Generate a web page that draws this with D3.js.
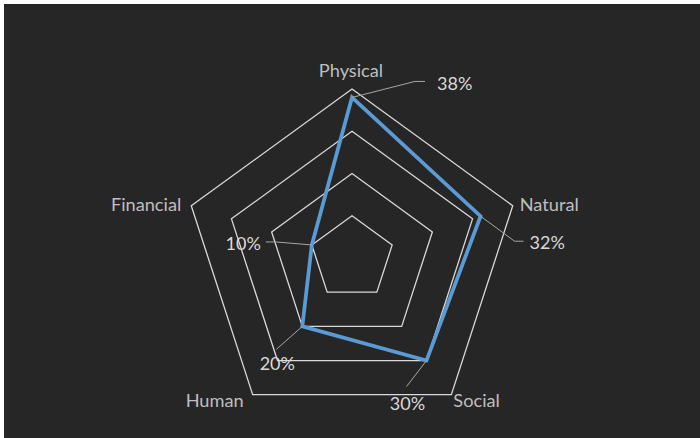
<!DOCTYPE html>
<html><head><meta charset="utf-8">
<script src="https://cdn.jsdelivr.net/npm/d3@7"></script>
<style>html,body{margin:0;padding:0;background:#ffffff;}svg{display:block;}</style>
</head><body><svg id="c" width="700" height="438"></svg>
<script>
const categories = ["Physical", "Natural", "Social", "Human", "Financial"];
const values = [38, 32, 30, 20, 10];
const ticks = [10, 20, 30, 40];
const valueLabels = ["38%", "32%", "30%", "20%", "10%"];

// layout
const cx = 352, cy = 258, R = 169;
const svg = d3.select("#c");
svg.append("rect").attr("x", 4).attr("y", 4).attr("width", 696).attr("height", 434).attr("fill", "#262626");

const r = d3.scaleLinear().domain([0, 40]).range([0, R]);
const angle = d3.scaleLinear().domain([0, categories.length]).range([0, 2 * Math.PI]);
const pt = (i, v) => [cx + r(v) * Math.sin(angle(i)), cy - r(v) * Math.cos(angle(i))];

const g = svg.append("g");
const radial = d3.lineRadial().curve(d3.curveLinearClosed);

ticks.forEach(t => {
  g.append("path")
    .attr("transform", `translate(${cx},${cy})`)
    .attr("d", radial(categories.map((c, i) => [angle(i), r(t)])))
    .attr("fill", "none").attr("stroke", "#d9d9d9").attr("stroke-width", 1.3);
});

// series
g.append("path")
  .attr("transform", `translate(${cx},${cy})`)
  .attr("d", radial(values.map((v, i) => [angle(i), r(v)])))
  .attr("fill", "none").attr("stroke", "#5b9bd5").attr("stroke-width", 3.75)
  .attr("stroke-linejoin", "miter");

// category labels
const catLayout = [
  {dx: -1, dy: -19.5, anchor: "middle"},
  {dx: 7, dy: -1.5, anchor: "start"},
  {dx: 2, dy: 5.5, anchor: "start"},
  {dx: -9, dy: 5.5, anchor: "end"},
  {dx: -10, dy: -1.5, anchor: "end"}
];
categories.forEach((c, i) => {
  const [x, y] = pt(i, 40);
  const L = catLayout[i];
  g.append("text").attr("x", x + L.dx).attr("y", y + L.dy)
    .attr("text-anchor", L.anchor).attr("dominant-baseline", "central")
    .attr("font-family", "Lato, 'Open Sans', sans-serif").attr("font-size", 18.2)
    .attr("fill", "#bfbfbf").text(c);
});

// data labels with leader lines (elbow offsets relative to point)
const lblLayout = [
  {ex: 63, ey: -16, hx: 10, tx: 85, ty: -14, anchor: "start"},
  {ex: 34, ey: 25, hx: 9, tx: 49, ty: 26, anchor: "start"},
  {ex: -20, ey: 26, hx: 0, tx: -19, ty: 42, anchor: "middle"},
  {ex: -26, ey: 23, hx: 0, tx: -25, ty: 37, anchor: "middle"},
  {ex: -36, ey: -3, hx: -10, tx: -51, ty: -2, anchor: "end"}
];
values.forEach((v, i) => {
  const [x, y] = pt(i, v);
  const L = lblLayout[i];
  const pts = [[x, y], [x + L.ex, y + L.ey]];
  if (L.hx) pts.push([x + L.ex + L.hx, y + L.ey]);
  g.append("path").attr("d", d3.line()(pts))
    .attr("fill", "none").attr("stroke", "#a6a6a6").attr("stroke-width", 1);
  g.append("text").attr("x", x + L.tx).attr("y", y + L.ty)
    .attr("text-anchor", L.anchor).attr("dominant-baseline", "central")
    .attr("font-family", "Lato, 'Open Sans', sans-serif").attr("font-size", 18)
    .attr("fill", "#d9d9d9").text(valueLabels[i]);
});
</script></body></html>
